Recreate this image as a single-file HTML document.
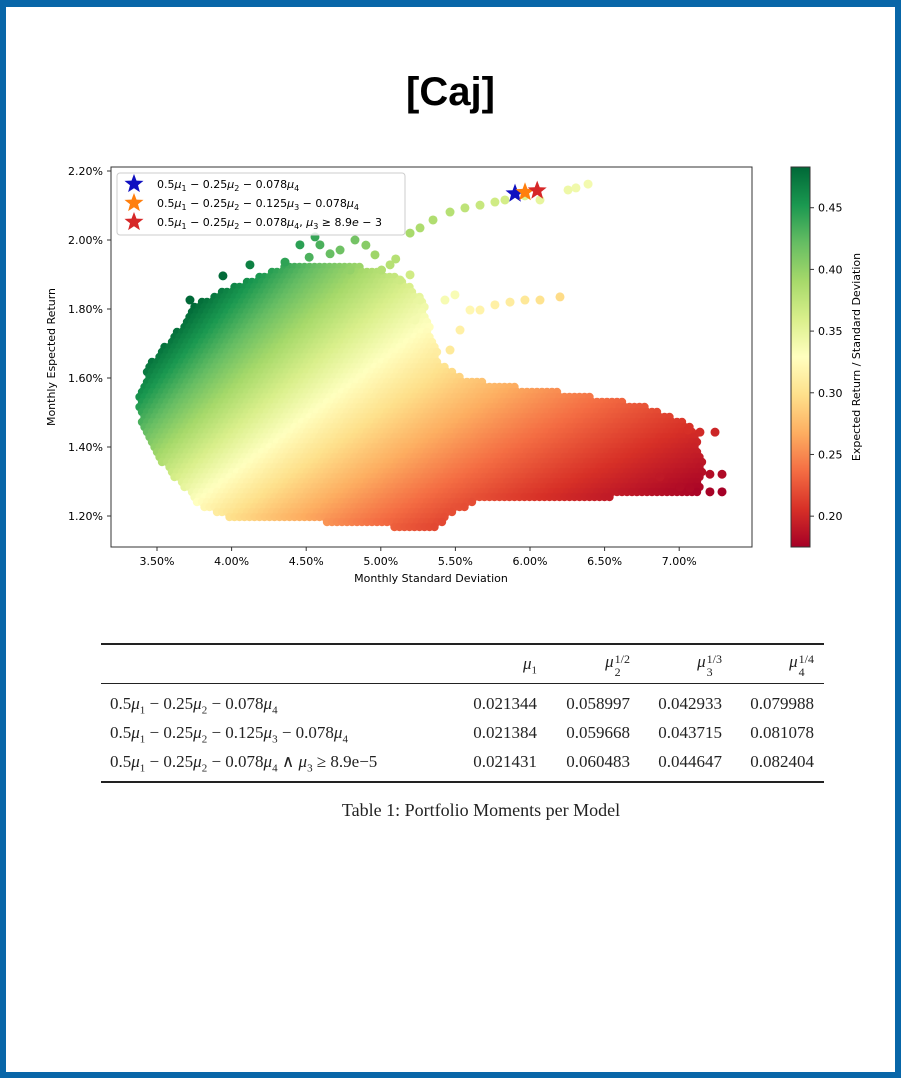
<!DOCTYPE html>
<html><head><meta charset="utf-8">
<style>
html,body{margin:0;padding:0;}
body{width:901px;height:1078px;position:relative;background:#fff;overflow:hidden;font-family:"Liberation Sans",sans-serif;}
#frame{position:absolute;left:0;top:0;width:901px;height:1078px;box-sizing:border-box;border:6px solid #0866a8;border-top-width:7px;}
#title{position:absolute;left:0;width:901px;top:70px;text-align:center;font-weight:bold;font-size:40px;color:#000;}
#chart{position:absolute;left:0;top:0;}
.tbl{position:absolute;font-family:"Liberation Serif",serif;font-size:17px;color:#222;white-space:nowrap;}
.rule{position:absolute;left:101px;width:723px;background:#222;}
i{font-style:italic;}
sub,sup{font-size:11px;}
.stk{display:inline-block;vertical-align:-9px;line-height:13px;font-size:12px;text-align:left;margin-left:1px;}
.stk span{display:block;}
</style></head>
<body>
<div id="frame"></div>
<div id="title">[Caj]</div>
<svg id="chart" width="901" height="1078" font-family="DejaVu Sans, Liberation Sans, sans-serif">
<defs>
<linearGradient id="cbgrad" x1="0" y1="1" x2="0" y2="0"></linearGradient>
<clipPath id="plotclip"><rect x="111" y="167" width="641" height="380"/></clipPath>
</defs>
<g id="cloud" clip-path="url(#plotclip)"></g>
<g id="pts" clip-path="url(#plotclip)"></g>
<rect x="111" y="167" width="641" height="380" fill="none" stroke="#333" stroke-width="1"/>
<g id="xaxis"></g>
<g id="yaxis"></g>
<g id="stars"></g>
<g>
<rect x="117" y="173" width="288" height="62" rx="3" fill="#fff" fill-opacity="0.85" stroke="#ccc"/>
<g id="legstars"></g>
<text x="157" y="188" font-size="11">0.5<tspan font-style="italic">μ</tspan><tspan font-size="8" dy="3">1</tspan><tspan dy="-3"> − 0.25</tspan><tspan font-style="italic">μ</tspan><tspan font-size="8" dy="3">2</tspan><tspan dy="-3"> − 0.078</tspan><tspan font-style="italic">μ</tspan><tspan font-size="8" dy="3">4</tspan></text>
<text x="157" y="207" font-size="11">0.5<tspan font-style="italic">μ</tspan><tspan font-size="8" dy="3">1</tspan><tspan dy="-3"> − 0.25</tspan><tspan font-style="italic">μ</tspan><tspan font-size="8" dy="3">2</tspan><tspan dy="-3"> − 0.125</tspan><tspan font-style="italic">μ</tspan><tspan font-size="8" dy="3">3</tspan><tspan dy="-3"> − 0.078</tspan><tspan font-style="italic">μ</tspan><tspan font-size="8" dy="3">4</tspan></text>
<text x="157" y="226" font-size="11">0.5<tspan font-style="italic">μ</tspan><tspan font-size="8" dy="3">1</tspan><tspan dy="-3"> − 0.25</tspan><tspan font-style="italic">μ</tspan><tspan font-size="8" dy="3">2</tspan><tspan dy="-3"> − 0.078</tspan><tspan font-style="italic">μ</tspan><tspan font-size="8" dy="3">4</tspan><tspan dy="-3">,  </tspan><tspan font-style="italic">μ</tspan><tspan font-size="8" dy="3">3</tspan><tspan dy="-3"> ≥ 8.9</tspan><tspan font-style="italic">e</tspan><tspan> − 3</tspan></text>
</g>
<text x="431" y="582" font-size="11" text-anchor="middle">Monthly Standard Deviation</text>
<text transform="translate(55,357) rotate(-90)" font-size="11" text-anchor="middle">Monthly Espected Return</text>
<rect x="791" y="167" width="19" height="380" fill="url(#cbgrad)" stroke="#333" stroke-width="1"/>
<g id="cbaxis"></g>
<text transform="translate(860,357) rotate(-90)" font-size="11" text-anchor="middle">Expected Return / Standard Deviation</text>
</svg>

<div class="rule" style="top:643px;height:1.5px;"></div>
<div class="rule" style="top:683px;height:1px;"></div>
<div class="rule" style="top:781px;height:1.5px;"></div>
<div>
<div class="tbl" style="right:364px;top:654px;"><i>μ</i><sub>1</sub></div>
<div class="tbl" style="right:271px;top:652px;"><i>μ</i><span class="stk"><span>1/2</span><span>2</span></span></div>
<div class="tbl" style="right:179px;top:652px;"><i>μ</i><span class="stk"><span>1/3</span><span>3</span></span></div>
<div class="tbl" style="right:87px;top:652px;"><i>μ</i><span class="stk"><span>1/4</span><span>4</span></span></div>

<div class="tbl" style="left:110px;top:694px;">0.5<i>μ</i><sub>1</sub> − 0.25<i>μ</i><sub>2</sub> − 0.078<i>μ</i><sub>4</sub></div>
<div class="tbl" style="left:110px;top:723px;">0.5<i>μ</i><sub>1</sub> − 0.25<i>μ</i><sub>2</sub> − 0.125<i>μ</i><sub>3</sub> − 0.078<i>μ</i><sub>4</sub></div>
<div class="tbl" style="left:110px;top:752px;">0.5<i>μ</i><sub>1</sub> − 0.25<i>μ</i><sub>2</sub> − 0.078<i>μ</i><sub>4</sub> ∧ <i>μ</i><sub>3</sub> ≥ 8.9e−5</div>
<div id="cells"></div>
<div class="tbl" style="left:0;width:962px;text-align:center;top:800px;font-size:18px;">Table 1: Portfolio Moments per Model</div>
</div>

<script>
// ---- chart data ----
const xTicks=[3.5,4.0,4.5,5.0,5.5,6.0,6.5,7.0];
const yTicks=[1.2,1.4,1.6,1.8,2.0,2.2];
const cTicks=[0.20,0.25,0.30,0.35,0.40,0.45];
// main cloud outline (std %, return %)
const cloudStd=[3.366,3.406,3.520,3.788,4.009,4.458,5.082,5.350,5.464,5.665,6.201,6.536,6.871,7.139,7.173,7.072,6.737,6.335,6.101,5.799,5.497,5.397,5.330,5.296,5.162,4.928,4.660,4.458,4.277,4.009,3.768,3.654,3.453];
const cloudRet=[1.542,1.458,1.362,1.226,1.188,1.188,1.168,1.159,1.203,1.246,1.255,1.255,1.261,1.270,1.362,1.464,1.522,1.551,1.565,1.580,1.609,1.652,1.739,1.826,1.884,1.919,1.936,1.936,1.913,1.864,1.817,1.748,1.643];
// sparse points (std %, return %)
const ptStd=[5.350,5.464,5.564,5.665,5.765,5.832,5.966,6.067,6.255,6.308,6.389,5.263,5.196,5.430,5.497,5.598,5.665,5.765,5.866,5.966,6.067,6.201,5.531,5.464,7.139,7.240,7.059,7.206,7.287,7.206,7.287,7.072,7.005,6.871,3.721,3.942,4.123,4.458,4.559,4.592,4.727,4.827,4.961,5.062,5.129,5.196,5.005,4.794,5.263,5.229,4.358,4.660,4.900,5.100,4.520];
const ptRet=[2.058,2.081,2.093,2.101,2.110,2.116,2.128,2.116,2.145,2.151,2.162,2.035,2.020,1.826,1.841,1.797,1.797,1.812,1.820,1.826,1.826,1.835,1.739,1.681,1.443,1.443,1.449,1.321,1.321,1.270,1.270,1.281,1.284,1.313,1.826,1.896,1.928,1.986,2.009,1.986,1.971,2.000,1.957,1.928,1.884,1.899,1.913,1.913,1.826,1.768,1.936,1.960,1.985,1.945,1.950];
// optimal portfolios (from table)
const starStd=[5.8997,5.9668,6.0483];
const starRet=[2.1344,2.1384,2.1431];
const starColors=['#1010c0','#ff7f0e','#d62728'];
// table values
const mu1=[0.021344,0.021384,0.021431];
const mu2=[0.058997,0.059668,0.060483];
const mu3=[0.042933,0.043715,0.044647];
const mu4=[0.079988,0.081078,0.082404];

const NS='http://www.w3.org/2000/svg';
const X=v=>157+(v-3.5)*149.2;
const Y=v=>171+(2.2-v)*345;
const vmin=0.175,vmax=0.483;
const C=v=>547-(v-vmin)/(vmax-vmin)*380;
const stops=['#a50026','#d73027','#f46d43','#fdae61','#fee08b','#ffffbf','#d9ef8b','#a6d96a','#66bd63','#1a9850','#006837'];
function hex(h){return [1,3,5].map(i=>parseInt(h.substr(i,2),16));}
function cmap(r){let t=(r-vmin)/(vmax-vmin);t=Math.max(0,Math.min(1,t))*10;const i=Math.min(9,Math.floor(t)),f=t-i;const a=hex(stops[i]),b=hex(stops[i+1]);return 'rgb('+a.map((v,k)=>Math.round(v+(b[k]-v)*f)).join(',')+')';}
function el(tag,attrs,parent){const e=document.createElementNS(NS,tag);for(const k in attrs)e.setAttribute(k,attrs[k]);parent.appendChild(e);return e;}

const grad=document.getElementById('cbgrad');
stops.forEach((s,i)=>el('stop',{offset:(i*10)+'%','stop-color':s},grad));

function inside(px,py){let c=false;const n=cloudStd.length;for(let i=0,j=n-1;i<n;j=i++){const xi=X(cloudStd[i]),yi=Y(cloudRet[i]),xj=X(cloudStd[j]),yj=Y(cloudRet[j]);if(((yi>py)!=(yj>py))&&(px<(xj-xi)*(py-yi)/(yj-yi)+xi))c=!c;}return c;}
const cloud=document.getElementById('cloud');
for(let py=167;py<=547;py+=5){for(let px=111;px<=752;px+=5){const ox=((py/5)%2)*2.5;const qx=px+ox;if(!inside(qx,py))continue;const s=3.5+(qx-157)/149.2,r=2.2-(py-171)/345;
const d=el('circle',{cx:qx,cy:py,r:4.2,fill:cmap(r/s)},cloud);

}}
const pts=document.getElementById('pts');
ptStd.forEach((s,i)=>{const d=el('circle',{cx:X(s),cy:Y(ptRet[i]),r:4.5,fill:cmap(ptRet[i]/s)},pts);

});

function starPath(cx,cy,R){const r=R*0.42;let p='';for(let k=0;k<10;k++){const a=-Math.PI/2+k*Math.PI/5,rr=k%2?r:R;p+=(k?'L':'M')+(cx+rr*Math.cos(a)).toFixed(1)+','+(cy+rr*Math.sin(a)).toFixed(1);}return p+'Z';}
const stars=document.getElementById('stars');
starStd.forEach((s,i)=>{const d=el('path',{d:starPath(X(s),Y(starRet[i]),10),fill:starColors[i]},stars);

});
const ls=document.getElementById('legstars');
starColors.forEach((c,i)=>{const d=el('path',{d:starPath(134,184+i*19,10),fill:c},ls);

});

const xa=document.getElementById('xaxis');
xTicks.forEach(v=>{el('line',{x1:X(v),x2:X(v),y1:547,y2:551,stroke:'#333'},xa);
const t=el('text',{x:X(v),y:565,'font-size':11,'text-anchor':'middle'},xa);t.textContent=v.toFixed(2)+'%';

});
const ya=document.getElementById('yaxis');
yTicks.forEach(v=>{el('line',{x1:107,x2:111,y1:Y(v),y2:Y(v),stroke:'#333'},ya);
const t=el('text',{x:103,y:Y(v)+4,'font-size':11,'text-anchor':'end'},ya);t.textContent=v.toFixed(2)+'%';

});
const ca=document.getElementById('cbaxis');
cTicks.forEach(v=>{el('line',{x1:810,x2:814,y1:C(v),y2:C(v),stroke:'#333'},ca);
const t=el('text',{x:818,y:C(v)+4,'font-size':11},ca);t.textContent=v.toFixed(2);

});

const cells=document.getElementById('cells');
const cols=[mu1,mu2,mu3,mu4],rights=[364,271,179,87];
for(let r=0;r<3;r++)for(let c=0;c<4;c++){const d=document.createElement('div');d.className='tbl';d.style.right=rights[c]+'px';d.style.top=(694+r*29)+'px';d.textContent=cols[c][r].toFixed(6);


cells.appendChild(d);}
</script>
</body></html>
